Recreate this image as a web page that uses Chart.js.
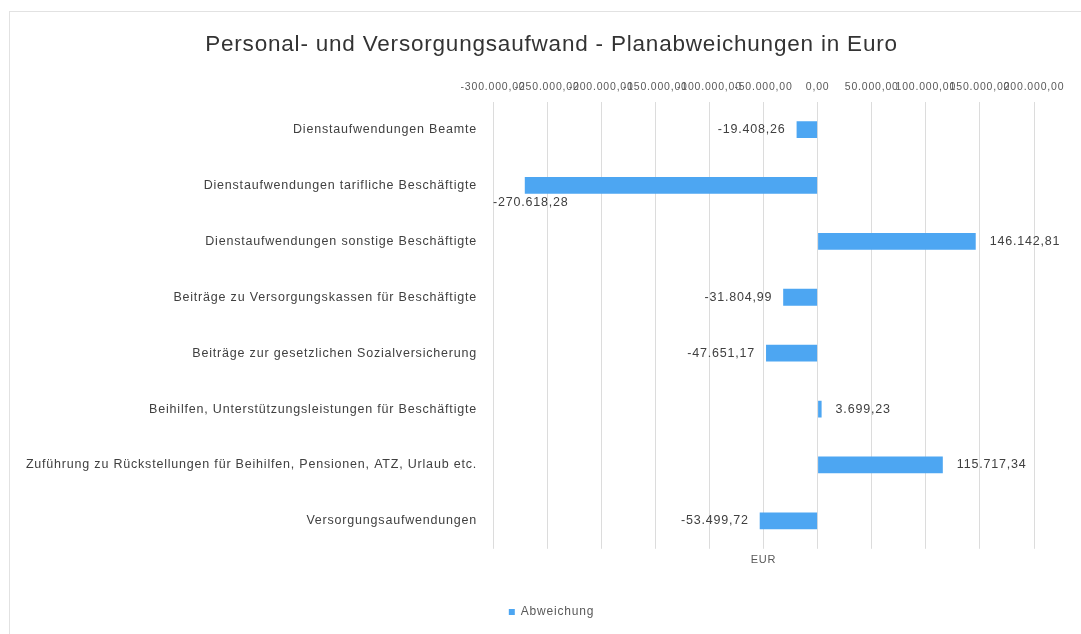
<!DOCTYPE html>
<html>
<head>
<meta charset="utf-8">
<script src="https://cdn.jsdelivr.net/npm/chart.js@4"></script>
<style>
  body { margin: 0; background: #fff; overflow: hidden; }
  .frame { position: absolute; left: 9px; top: 11px; width: 1100px; height: 700px; border: 1px solid #e2e2e2; }
  .box { position: absolute; left: 0; top: 0; width: 1081px; height: 634px; }
</style>
</head>
<body>
<div class="frame"></div>
<div class="box"><canvas id="chart" width="1081" height="634"></canvas></div>
<script>
const categories = [
  "Dienstaufwendungen Beamte",
  "Dienstaufwendungen tarifliche Beschäftigte",
  "Dienstaufwendungen sonstige Beschäftigte",
  "Beiträge zu Versorgungskassen für Beschäftigte",
  "Beiträge zur gesetzlichen Sozialversicherung",
  "Beihilfen, Unterstützungsleistungen für Beschäftigte",
  "Zuführung zu Rückstellungen für Beihilfen, Pensionen, ATZ, Urlaub etc.",
  "Versorgungsaufwendungen"
]
const abweichung = [-19408.26, -270618.28, 146142.81, -31804.99, -47651.17, 3699.23, 115717.34, -53499.72]
const axisMin = -300000
const axisMax = 200000
const axisStep = 50000

// deutsches Zahlenformat, 2 Nachkommastellen
function fmt(v) {
  const neg = v < 0
  const parts = Math.abs(v).toFixed(2).split(".")
  const int = parts[0].replace(/\B(?=(\d{3})+(?!\d))/g, ".")
  return (neg ? "-" : "") + int + "," + parts[1]
}

// Schrift im Original ist etwas breiter gesetzt
const spacing = {
  id: "spacing",
  beforeUpdate(chart) { chart.ctx.letterSpacing = "0.8px" },
  beforeDraw(chart) { chart.ctx.letterSpacing = "0.8px" }
}

const valueLabels = {
  id: "valueLabels",
  afterDatasetsDraw(chart) {
    const ctx = chart.ctx
    const area = chart.chartArea
    const meta = chart.getDatasetMeta(0)
    ctx.save()
    ctx.font = "12.5px 'Liberation Sans', Arial, sans-serif"
    ctx.fillStyle = "#404040"
    ctx.textBaseline = "middle"
    meta.data.forEach((bar, i) => {
      const v = abweichung[i]
      const txt = fmt(v)
      const w = ctx.measureText(txt).width
      if (v >= 0) {
        ctx.textAlign = "left"
        ctx.fillText(txt, bar.x + 14, bar.y)
      } else if (bar.x - 11 - w < area.left) {
        ctx.textAlign = "left"
        ctx.fillText(txt, area.left, bar.y + 17)
      } else {
        ctx.textAlign = "right"
        ctx.fillText(txt, bar.x - 11, bar.y)
      }
    })
    ctx.restore()
  }
}

Chart.defaults.font.family = "'Liberation Sans', Arial, sans-serif"
Chart.defaults.color = "#404040"

const ctx = document.getElementById("chart")
new Chart(ctx, {
  type: "bar",
  data: {
    labels: categories,
    datasets: [{
      label: "Abweichung",
      data: abweichung,
      backgroundColor: "#4da6f2",
      borderWidth: 0,
      barPercentage: 0.3,
      categoryPercentage: 1
    }]
  },
  options: {
    indexAxis: "y",
    responsive: false,
    animation: false,
    layout: { padding: { left: 22, right: 0, top: 0, bottom: 6 } },
    scales: {
      x: {
        position: "top",
        min: axisMin,
        max: axisMax,
        grid: { color: "#dcdcdc", drawTicks: false },
        border: { display: false },
        ticks: {
          stepSize: axisStep,
          maxRotation: 0,
          autoSkip: false,
          padding: 8,
          color: "#595959",
          font: { size: 10.5 },
          callback: v => fmt(v)
        }
      },
      x2: {
        position: "bottom",
        axis: "x",
        min: axisMin,
        max: axisMax,
        grid: { display: false, drawTicks: false },
        border: { display: false },
        ticks: { display: false },
        title: { display: true, text: "EUR", color: "#595959", font: { size: 11 }, padding: { top: 5, bottom: 9 } }
      },
      y: {
        grid: { display: false },
        border: { display: false },
        ticks: { padding: 8, color: "#404040", font: { size: 12.5 } },
        afterFit: s => { s.width = 493 - 22 }
      },
      // leerer Rand rechts neben dem Diagramm
      yRight: {
        type: "linear",
        position: "right",
        grid: { display: false, drawTicks: false },
        border: { display: false },
        ticks: { display: false },
        afterFit: s => { s.width = 47 }
      }
    },
    plugins: {
      title: {
        display: true,
        text: "Personal- und Versorgungsaufwand - Planabweichungen in Euro",
        color: "#333333",
        font: { size: 22.5, weight: "normal" },
        padding: { top: 31, bottom: 15 }
      },
      legend: {
        position: "bottom",
        labels: {
          boxWidth: 6,
          boxHeight: 6,
          padding: 30,
          color: "#595959",
          font: { size: 12 }
        }
      },
      tooltip: { enabled: false }
    }
  },
  plugins: [spacing, valueLabels]
})
</script>
</body>
</html>
